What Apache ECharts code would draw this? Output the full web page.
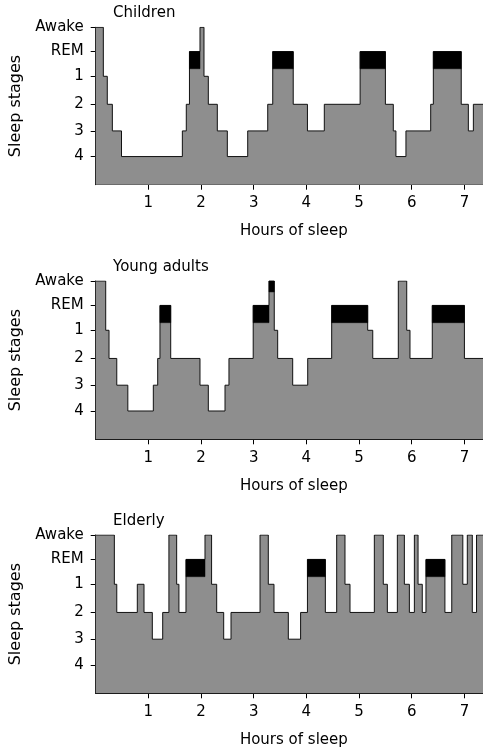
<!DOCTYPE html>
<html>
<head>
<meta charset="utf-8">
<script src="https://cdn.jsdelivr.net/npm/echarts@6/dist/echarts.min.js"></script>
<style>
  html, body { margin: 0; padding: 0; background: #fff; }
  #chart { width: 483px; height: 750px; }
</style>
</head>
<body>
<div id="chart"></div>
<script>
// ---- data ----
const panelTitles = ['Children', 'Young adults', 'Elderly'];
const stageNames = ['Awake', 'REM', '1', '2', '3', '4'];
const hourTicks = [1, 2, 3, 4, 5, 6, 7];

const childrenTimes = [0, 0.145, 0.22, 0.316, 0.49, 1.645, 1.72, 1.78, 1.98, 2.056, 2.138, 2.309, 2.499, 2.886, 3.266, 3.361, 3.75, 4.02, 4.34, 5.02, 5.5, 5.65, 5.70, 5.89, 6.36, 6.41, 6.94, 7.075, 7.17];
const childrenStages = ['Awake', '1', '2', '3', '4', '3', '2', 'REM', 'Awake', '1', '2', '3', '4', '3', '2', 'REM', '2', '3', '2', 'REM', '2', '3', '4', '3', '2', 'REM', '2', '3', '2'];

const youngTimes = [0, 0.19, 0.253, 0.40, 0.61, 1.094, 1.177, 1.22, 1.424, 1.98, 2.138, 2.455, 2.53, 2.99, 3.29, 3.39, 3.455, 3.74, 4.025, 4.48, 5.164, 5.26, 5.745, 5.905, 5.967, 6.39, 7.0];
const youngStages = ['Awake', '1', '2', '3', '4', '3', '2', 'REM', '2', '3', '4', '3', '2', 'REM', 'Awake (REM)', '1', '2', '3', '2', 'REM', '1', '2', 'Awake', '1', '2', 'REM', '2'];

const elderlyTimes = [0, 0.354, 0.40, 0.79, 0.917, 1.075, 1.272, 1.39, 1.537, 1.58, 1.714, 2.075, 2.2, 2.297, 2.43, 2.569, 3.12, 3.277, 3.385, 3.657, 3.89, 4.02, 4.36, 4.575, 4.733, 4.828, 5.29, 5.46, 5.537, 5.727, 5.86, 5.955, 6.05, 6.12, 6.2, 6.27, 6.63, 6.76, 6.97, 7.055, 7.15, 7.23];
const elderlyStages = ['Awake', '1', '2', '1', '2', '3', '2', 'Awake', '1', '2', 'REM', 'Awake', '1', '2', '3', '2', 'Awake', '1', '2', '3', '2', 'REM', '2', 'Awake', '1', '2', 'Awake', '1', '2', 'Awake', '1', '2', 'Awake', '1', '2', 'REM', '2', 'Awake', '1', 'Awake', '2', 'Awake'];

const recordEnd = 7.6; // recording continues past the visible right edge

// ---- scale of the sleep-stage axis (tick positions) ----
const stageAxisPos = [0, 0.94, 1.896, 2.979, 4.008, 5.0];
const remBasePos = 1.603;
const briefRemBasePos = 0.42;
const stageAxisMax = 6.089;

function stagePos(s) {
  if (s === 'Awake (REM)') return stageAxisPos[0];
  return stageAxisPos[stageNames.indexOf(s)];
}

const panels = [
  { times: childrenTimes, stages: childrenStages },
  { times: youngTimes, stages: youngStages },
  { times: elderlyTimes, stages: elderlyStages }
];

// layout of each panel (pixel positions of the plotting box)
const gridTops = [27.3, 281, 535];
const gridHeights = [157.4, 158.3, 158.3];
const titleTops = [4, 258, 512];

const FONT = 'DejaVu Sans';
const option = {
  animation: false,
  backgroundColor: '#fff',
  textStyle: { fontFamily: FONT, color: '#000' },
  title: panelTitles.map((t, i) => ({
    text: t, left: 113, top: titleTops[i], padding: 0,
    textStyle: { fontFamily: FONT, fontSize: 15, fontWeight: 'normal', color: '#000', lineHeight: 18 }
  })),
  grid: gridTops.map((top, i) => ({ left: 95.7, right: 0, top: top, height: gridHeights[i] })),
  xAxis: panels.map((p, i) => ({
    type: 'value', gridIndex: i, min: 0, max: 7.353,
    name: 'Hours of sleep', nameLocation: 'middle', nameGap: 39,
    nameTextStyle: { fontFamily: FONT, fontSize: 15, color: '#000', padding: [0, 0, 0, 9] },
    axisLine: { show: true, onZero: false, lineStyle: { color: '#000', width: 1 } },
    axisTick: { show: true, length: 5, customValues: hourTicks, lineStyle: { color: '#000' } },
    axisLabel: { customValues: hourTicks, margin: 11, fontSize: 15, color: '#000', fontFamily: FONT },
    splitLine: { show: false }
  })),
  yAxis: panels.map((p, i) => ({
    type: 'value', gridIndex: i, inverse: true, min: 0, max: stageAxisMax,
    name: 'Sleep stages', nameLocation: 'middle', nameGap: 62,
    nameTextStyle: { fontFamily: FONT, fontSize: 16, color: '#000' },
    axisLine: { show: true, onZero: false, lineStyle: { color: '#000', width: 1 } },
    axisTick: { show: true, length: 5, customValues: stageAxisPos, lineStyle: { color: '#000' } },
    axisLabel: {
      customValues: stageAxisPos, margin: 12, fontSize: 15, color: '#000', fontFamily: FONT,
      formatter: function (v) {
        let best = 0;
        stageAxisPos.forEach((q, k) => { if (Math.abs(q - v) < Math.abs(stageAxisPos[best] - v)) best = k; });
        return stageNames[best];
      }
    },
    splitLine: { show: false }
  })),
  series: []
};

panels.forEach((p, i) => {
  const lineData = p.times.map((t, k) => [t, stagePos(p.stages[k])]);
  lineData.push([recordEnd, stagePos(p.stages[p.stages.length - 1])]);
  option.series.push({
    type: 'line', xAxisIndex: i, yAxisIndex: i, step: 'end', symbol: 'none',
    data: lineData,
    lineStyle: { color: '#111', width: 1 },
    areaStyle: { color: '#8e8e8e', opacity: 1, origin: 'end' },
    z: 2
  });
  const caps = [];
  p.stages.forEach((s, k) => {
    const end = k + 1 < p.times.length ? p.times[k + 1] : recordEnd;
    if (s === 'REM') caps.push([p.times[k], end, stagePos('REM'), remBasePos]);
    if (s === 'Awake (REM)') caps.push([p.times[k], end, stagePos('Awake'), briefRemBasePos]);
  });
  option.series.push({
    type: 'custom', xAxisIndex: i, yAxisIndex: i,
    data: caps,
    encode: { x: [0, 1], y: [2, 3] },
    renderItem: function (params, api) {
      const a = api.coord([api.value(0), api.value(2)]);
      const b = api.coord([api.value(1), api.value(3)]);
      return {
        type: 'rect',
        shape: { x: a[0], y: a[1], width: b[0] - a[0], height: b[1] - a[1] },
        style: { fill: '#000', stroke: '#000', lineWidth: 0.5 }
      };
    },
    z: 3
  });
});

const chart = echarts.init(document.getElementById('chart'), null, { renderer: 'canvas' });
chart.setOption(option);
</script>
</body>
</html>
